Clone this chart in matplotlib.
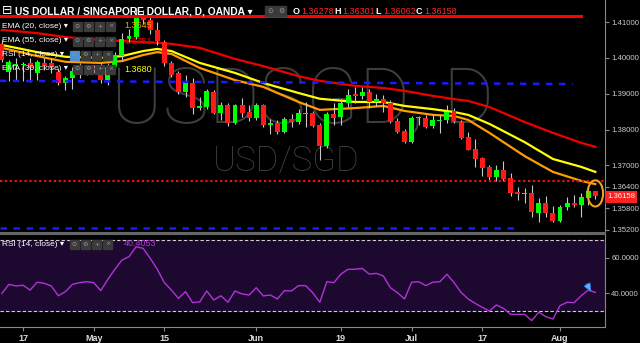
import matplotlib.pyplot as plt
import numpy as np
from matplotlib.patches import Ellipse, Rectangle

# daily candles, USD/SGD (OANDA)
OPEN = [1.4039, 1.3961, 1.3977, 1.3980, 1.3986, 1.3958, 1.3986, 1.3986, 1.3961, 1.3930,
        1.3944, 1.3961, 1.3969, 1.3972, 1.3975, 1.3938, 1.3975, 1.4005, 1.4053, 1.4058,
        1.4114, 1.4106, 1.4078, 1.4044, 1.3986, 1.3958, 1.3905, 1.3930, 1.3860, 1.3863,
        1.3905, 1.3846, 1.3869, 1.3818, 1.3869, 1.3849, 1.3832, 1.3869, 1.3813, 1.3818,
        1.3793, 1.3830, 1.3821, 1.3843, 1.3846, 1.3813, 1.3754, 1.3843, 1.3835, 1.3874,
        1.3899, 1.3894, 1.3905, 1.3877, 1.3885, 1.3874, 1.3824, 1.3796, 1.3765, 1.3832,
        1.3832, 1.3810, 1.3824, 1.3827, 1.3852, 1.3821, 1.3779, 1.3746, 1.3721, 1.3696,
        1.3668, 1.3687, 1.3665, 1.3626, 1.3620, 1.3623, 1.3567, 1.3595, 1.3567, 1.3545,
        1.3584, 1.3595, 1.3590, 1.3609, 1.36278]
HIGH = [1.4050, 1.3994, 1.4000, 1.3989, 1.4000, 1.3994, 1.4000, 1.4000, 1.3972, 1.3949,
        1.3975, 1.3986, 1.3980, 1.3980, 1.3986, 1.3986, 1.4016, 1.4069, 1.4081, 1.4139,
        1.4134, 1.4122, 1.4100, 1.4050, 1.3991, 1.3963, 1.3952, 1.3944, 1.3891, 1.3913,
        1.3910, 1.3877, 1.3874, 1.3871, 1.3888, 1.3869, 1.3874, 1.3871, 1.3830, 1.3827,
        1.3835, 1.3843, 1.3857, 1.3877, 1.3852, 1.3818, 1.3849, 1.3874, 1.3885, 1.3913,
        1.3919, 1.3919, 1.3913, 1.3899, 1.3896, 1.3883, 1.3832, 1.3802, 1.3838, 1.3838,
        1.3841, 1.3843, 1.3841, 1.3869, 1.3860, 1.3827, 1.3793, 1.3774, 1.3724, 1.3701,
        1.3701, 1.3712, 1.3679, 1.3640, 1.3637, 1.3645, 1.3609, 1.3615, 1.3587, 1.3590,
        1.3612, 1.3618, 1.3623, 1.3640, 1.36301]
LOW = [1.3988, 1.3936, 1.3938, 1.3936, 1.3933, 1.3938, 1.3966, 1.3958, 1.3924, 1.3910,
       1.3913, 1.3944, 1.3952, 1.3958, 1.3930, 1.3924, 1.3969, 1.3994, 1.4044, 1.4053,
       1.4095, 1.4067, 1.4036, 1.3977, 1.3947, 1.3899, 1.3891, 1.3843, 1.3855, 1.3857,
       1.3843, 1.3827, 1.3810, 1.3816, 1.3835, 1.3824, 1.3827, 1.3807, 1.3788, 1.3788,
       1.3791, 1.3807, 1.3816, 1.3807, 1.3807, 1.3715, 1.3749, 1.3813, 1.3813, 1.3863,
       1.3874, 1.3885, 1.3860, 1.3866, 1.3849, 1.3818, 1.3791, 1.3763, 1.3763, 1.3813,
       1.3804, 1.3804, 1.3790, 1.3818, 1.3818, 1.3774, 1.3743, 1.3696, 1.3671, 1.3659,
       1.3657, 1.3657, 1.3615, 1.3604, 1.3595, 1.3556, 1.3542, 1.3556, 1.3542, 1.3542,
       1.3576, 1.3584, 1.3556, 1.3590, 1.36062]
CLOSE = [1.3994, 1.3989, 1.3983, 1.3983, 1.3972, 1.3989, 1.3977, 1.3975, 1.3930, 1.3944,
         1.3963, 1.3972, 1.3975, 1.3966, 1.3938, 1.3975, 1.4008, 1.4053, 1.4061, 1.4111,
         1.4106, 1.4078, 1.4047, 1.3986, 1.3952, 1.3905, 1.3930, 1.3860, 1.3866, 1.3908,
         1.3846, 1.3869, 1.3818, 1.3869, 1.3846, 1.3832, 1.3869, 1.3813, 1.3818, 1.3793,
         1.3830, 1.3821, 1.3846, 1.3846, 1.3810, 1.3754, 1.3843, 1.3832, 1.3874, 1.3896,
         1.3894, 1.3905, 1.3877, 1.3885, 1.3874, 1.3821, 1.3793, 1.3765, 1.3832, 1.3835,
         1.3807, 1.3827, 1.3827, 1.3849, 1.3821, 1.3777, 1.3743, 1.3718, 1.3693, 1.3668,
         1.3687, 1.3662, 1.3623, 1.3620, 1.3623, 1.3570, 1.3595, 1.3567, 1.3545, 1.3584,
         1.3595, 1.3590, 1.3612, 1.3629, 1.36158]

# moving averages, sampled along the lines
EMA_IDX = [0, 5, 9, 14, 17, 20, 22, 24, 28, 33, 37, 42, 45, 50, 54, 57, 61, 64, 66, 69, 74, 78, 82, 84]
EMA20 = [1.4028, 1.4005, 1.3989, 1.3986, 1.3991, 1.4008, 1.4016, 1.4011, 1.3972, 1.3938, 1.3919, 1.3877,
         1.3855, 1.3860, 1.3866, 1.3852, 1.3841, 1.3838, 1.3827, 1.3791, 1.3726, 1.3682, 1.3657, 1.3648]
EMA30 = [1.4036, 1.4016, 1.4003, 1.4000, 1.4005, 1.4019, 1.4025, 1.4019, 1.3986, 1.3958, 1.3930, 1.3902,
         1.3886, 1.3877, 1.3877, 1.3866, 1.3857, 1.3849, 1.3841, 1.3816, 1.3765, 1.3718, 1.3696, 1.3682]
EMA55 = [1.4078, 1.4069, 1.4058, 1.4050, 1.4047, 1.4044, 1.4042, 1.4039, 1.4028, 1.3997, 1.3977, 1.3949,
         1.3936, 1.3922, 1.3916, 1.3908, 1.3894, 1.3885, 1.3880, 1.3863, 1.3821, 1.3791, 1.3763, 1.3752]

RSI = [39.9, 45.0, 44.1, 44.5, 41.8, 46.2, 45.6, 44.1, 38.6, 40.9,
       45.0, 46.0, 46.5, 46.0, 41.5, 47.8, 53.5, 58.7, 60.6, 66.2,
       65.3, 59.7, 53.5, 46.0, 41.8, 37.1, 40.9, 34.7, 35.1, 41.3,
       36.2, 38.6, 34.9, 41.3, 39.6, 39.0, 43.1, 38.5, 39.0, 36.8,
       41.5, 41.3, 44.3, 44.3, 40.3, 34.9, 46.5, 46.0, 50.8, 53.5,
       53.5, 54.0, 50.8, 51.2, 49.7, 43.1, 40.3, 36.8, 46.2, 46.5,
       44.3, 46.2, 46.5, 50.7, 46.0, 40.5, 36.8, 34.3, 32.1, 30.0,
       33.4, 31.5, 28.1, 28.1, 28.1, 24.6, 29.3, 26.8, 25.5, 33.0,
       34.9, 34.7, 38.6, 41.8, 40.5]

TICK_IDX = [3, 13, 23, 36, 48, 58, 68, 79]
TICK_LABELS = ["17", "May", "15", "Jun", "19", "Jul", "17", "Aug"]
PRICE_TICKS = [1.41, 1.40, 1.39, 1.38, 1.37, 1.364, 1.358, 1.352]
RSI_TICKS = [60, 40]

RESIST = 1.4117                 # solid red line
TREND = (1.3936, 1.3927)        # upper blue dashed
DOTTED = 1.3657                 # red dotted
SUPPORT = 1.3526                # lower blue dashed

W, H = 640, 343
BG = "black"
GREY = "#cccccc"
SANS = ["Liberation Sans", "DejaVu Sans"]


def fx(px):
    return px / W


def fy(py):
    return 1 - py / H


fig = plt.figure(figsize=(6.4, 3.43), dpi=100, facecolor=BG)
ax = fig.add_axes([0, fy(233), fx(605), 233 / H], facecolor=BG)
rax = fig.add_axes([0, fy(327), fx(605), 93 / H], facecolor=BG, sharex=ax)

x = np.arange(len(OPEN))
o, h, l, c = (np.array(a) for a in (OPEN, HIGH, LOW, CLOSE))
cols = np.where(c >= o, "#00ff00", "#ff1a1a")

ax.set_xlim(-0.26, 85.37)
ax.set_ylim(1.35116, 1.41614)

# watermark
ax.text(42.5, 1.3880, "USDSGD, D", color="#3d3d3d", fontsize=56, family="Roboto",
        fontweight="light", ha="center", va="center", zorder=0)
ax.text(40.3, 1.3712, "USD/SGD", color="#3d3d3d", fontsize=25, family="Roboto",
        fontweight="light", ha="center", va="center", zorder=0)

# EMAs
ax.plot(EMA_IDX, EMA55, color="#ee0000", lw=1.6, zorder=2)
ax.plot(EMA_IDX, EMA30, color="#ffff00", lw=1.6, zorder=2)
ax.plot(EMA_IDX, EMA20, color="#ff9d00", lw=1.6, zorder=2)

# candles
ax.vlines(x, l, h, color="#c8c8c8", lw=0.8, zorder=3)
ax.bar(x, np.maximum(np.abs(c - o), 0.00025), bottom=np.minimum(o, c), width=0.7,
       color=cols, linewidth=0, zorder=4)

# drawn levels
ax.plot([-0.26, 82.0], [RESIST, RESIST], color="#ff0000", lw=2.2, zorder=5)
ax.plot([-0.26, 80.8], list(TREND), color="#1a1aff", lw=1.8, dashes=(2.6, 2.6), zorder=5)
ax.axhline(DOTTED, color="#ee1111", lw=1.6, dashes=(1, 1.2), zorder=5)
ax.plot([-0.26, 72.9], [SUPPORT, SUPPORT], color="#1a1aff", lw=1.8, dashes=(2.6, 2.6), zorder=5)

ax.add_patch(Ellipse((84, 1.3622), 2.2, 0.0073, fill=False, ec="#f0a020", lw=1.5, zorder=6))

ax.yaxis.tick_right()
ax.set_yticks(PRICE_TICKS)
ax.set_yticklabels([f"{v:.5f}" for v in PRICE_TICKS], family=SANS)
ax.tick_params(axis="y", colors="#888888", labelcolor=GREY, labelsize=5.6, length=3, pad=1.5)
ax.tick_params(axis="x", bottom=False, labelbottom=False)
for s in ("top", "left"):
    ax.spines[s].set_visible(False)
ax.spines["right"].set_color("#888888")
ax.spines["bottom"].set_color("#666666")
ax.spines["bottom"].set_linewidth(1.5)

# RSI pane
rax.set_ylim(20.99, 73.38)
rax.axhspan(30, 70, color="#1d0930", zorder=0)
rax.axhline(70, color="#d0d0d0", lw=0.8, dashes=(3, 2))
rax.axhline(30, color="#d0d0d0", lw=0.8, dashes=(3, 2))
rax.plot(x, RSI, color="#b032d8", lw=1.0, zorder=3)
rax.annotate("", xy=(83.6, 39.5), xytext=(82.6, 46.5),
             arrowprops=dict(arrowstyle="simple,head_width=0.5,head_length=0.6",
                             fc="#5ab0ff", ec="#2f6fd0", lw=0.5), zorder=4)

rax.yaxis.tick_right()
rax.set_yticks(RSI_TICKS)
rax.set_yticklabels([f"{v:.4f}" for v in RSI_TICKS], family=SANS)
rax.set_xticks(TICK_IDX)
rax.set_xticklabels(TICK_LABELS, family=SANS, fontweight="bold")
rax.tick_params(axis="y", colors="#888888", labelcolor=GREY, labelsize=5.6, length=3, pad=1.5)
rax.tick_params(axis="x", colors="#888888", labelcolor="#dddddd", labelsize=6.5, length=3, pad=2)
rax.spines["left"].set_visible(False)
for s in ("right", "bottom"):
    rax.spines[s].set_color("#888888")
rax.spines["top"].set_color("#666666")
rax.spines["top"].set_linewidth(1.5)

# header
fig.text(fx(2), fy(11), "⊟", color="white", fontsize=9, va="center")
fig.text(fx(15), fy(11), "US DOLLAR / SINGAPORE DOLLAR, D, OANDA ▾", color="white",
         fontsize=7.4, fontweight="bold", family=SANS, va="center")
for bx, g in ((265, "⊙"), (276, "⚙")):
    fig.patches.append(Rectangle((fx(bx), fy(16)), fx(10), 10 / H, transform=fig.transFigure,
                                 color="#3a3a3a", zorder=1))
    fig.text(fx(bx + 5), fy(11), g, color="#9a9a9a", fontsize=5, ha="center", va="center")

ohlc = [("O", "1.36278"), ("H", "1.36301"), ("L", "1.36062"), ("C", "1.36158")]
px0 = 293
for k, v in ohlc:
    fig.text(fx(px0), fy(11), k, color="white", fontsize=6.5, family=SANS,
             fontweight="bold", va="center")
    fig.text(fx(px0 + 8), fy(11), v, color="#ff2a2a", fontsize=6.5, family=SANS, va="center")
    px0 += 41

# indicator legends
rows = [(26, "EMA (20, close) ▾", "1.3645", "#ff9d00", 73),
        (41, "EMA (55, close) ▾", "1.3751", "#dd0000", 73),
        (55, "RSI (14, close) ▾", "", "", 70),
        (69, "EMA (30, close) ▾", "1.3680", "#ffff00", 73),
        (244, "RSI (14, close) ▾", "40.4053", "#b032d8", 70)]
for ry, name, val, vc, ix in rows:
    fig.text(fx(2), fy(ry), name, color="white", fontsize=6, family=SANS, va="center")
    for j, g in enumerate(("⊙", "⚙", "+", "×")):
        bc = "#4a8fd8" if (j == 0 and ry == 55) else "#3a3a3a"
        fig.patches.append(Rectangle((fx(ix + 11 * j), fy(ry + 4.5)), fx(9), 9 / H,
                                     transform=fig.transFigure, color=bc, zorder=1))
        fig.text(fx(ix + 11 * j + 4.5), fy(ry), g, color="#9a9a9a", fontsize=4.5,
                 ha="center", va="center")
    if val:
        fig.text(fx(124), fy(ry), val, color=vc, fontsize=6.5, family=SANS, va="center")

# last price tag
fig.text(fx(607), fy(197), "1.36158", color="white", fontsize=5.6, family=SANS,
         va="center", bbox=dict(boxstyle="square,pad=0.3", fc="#ff2020", ec="none"))

fig.savefig("out.png", dpi=100, facecolor=BG)
